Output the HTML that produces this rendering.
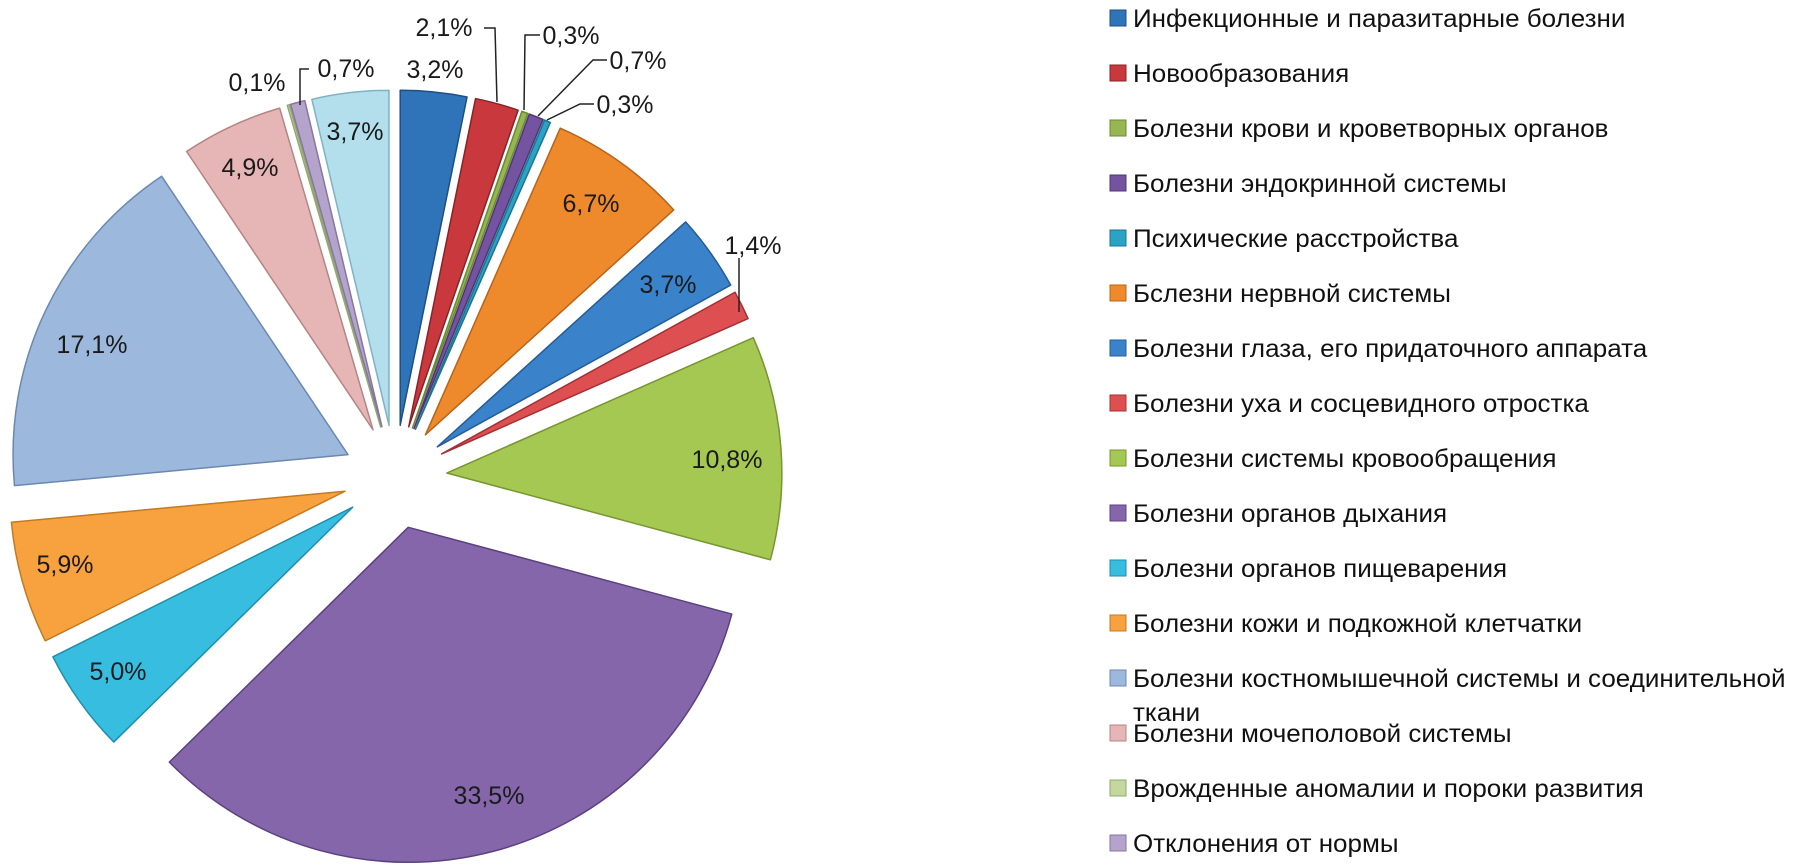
<!DOCTYPE html>
<html><head><meta charset="utf-8">
<style>
html,body{margin:0;padding:0;background:#fff;}
svg{display:block;}
text{font-family:"Liberation Sans","DejaVu Sans",sans-serif;}
</style></head>
<body>
<svg id="chart" width="1793" height="864" viewBox="0 0 1793 864" xmlns="http://www.w3.org/2000/svg">
<g id="slices"></g>
<g id="leaders"></g>
<g id="labels"></g>
<g id="legend"></g>
</svg>
<script>
const categories = [
 "Инфекционные и паразитарные болезни",
 "Новообразования",
 "Болезни крови и кроветворных органов",
 "Болезни эндокринной системы",
 "Психические расстройства",
 "Бслезни нервной системы",
 "Болезни глаза, его придаточного аппарата",
 "Болезни уха и сосцевидного отростка",
 "Болезни системы кровообращения",
 "Болезни органов дыхания",
 "Болезни органов пищеварения",
 "Болезни кожи и подкожной клетчатки",
 "Болезни костномышечной системы и соединительной",
 "Болезни мочеполовой системы",
 "Врожденные аномалии и пороки развития",
 "Отклонения от нормы",
 "Прочие"
];
const values = [3.2, 2.1, 0.3, 0.7, 0.3, 6.7, 3.7, 1.4, 10.8, 33.5, 5.0, 5.9, 17.1, 4.9, 0.1, 0.7, 3.7];
const valueLabels = ["3,2%","2,1%","0,3%","0,7%","0,3%","6,7%","3,7%","1,4%","10,8%","33,5%","5,0%","5,9%","17,1%","4,9%","0,1%","0,7%","3,7%"];

const colors = ["#2f74b8","#c8383c","#95b650","#7453a0","#2aa3c4","#ee8a2c","#3a82c9","#de4f52","#a4c852","#8566aa","#36bde0","#f7a23e","#9cb8dd","#e5b6b5","#c4d79e","#b4a3cb","#b3deeb"];
const strokes = ["#1d4f82","#8a2327","#6c8a35","#4f3575","#1a7590","#b8641a","#245d97","#a33034","#77962f","#5b4180","#1f8eac","#c47a22","#6b88b0","#b58483","#93a86f","#8676a0","#7fb3c4"];
const CX=395, CY=477, R=335, EXPLODE=52;

const total = values.reduce((a,b)=>a+b,0);
function angleOf(v){ return v/total*2*Math.PI; }
function pt(cx,cy,r,a){ return [cx+r*Math.sin(a), cy-r*Math.cos(a)]; }

const NS="http://www.w3.org/2000/svg";
const gS=document.getElementById('slices');
let acc=0;
values.forEach((v,i)=>{
  const a0=angleOf(acc), a1=angleOf(acc+v); acc+=v;
  const mid=(a0+a1)/2;
  const tx=CX+EXPLODE*Math.sin(mid), ty=CY-EXPLODE*Math.cos(mid);
  const p0=pt(tx,ty,R,a0), p1=pt(tx,ty,R,a1);
  const large=(a1-a0)>Math.PI?1:0;
  const p=document.createElementNS(NS,'path');
  p.setAttribute('d',`M${tx},${ty} L${p0[0]},${p0[1]} A${R},${R} 0 ${large} 1 ${p1[0]},${p1[1]} Z`);
  p.setAttribute('fill',colors[i]);
  p.setAttribute('stroke',strokes[i]);
  p.setAttribute('stroke-width','1.5');
  p.setAttribute('stroke-linejoin','round');
  
  
  gS.appendChild(p);
});

const labelPos = [[435,69],[444,27],[571,35],[638,60],[625,104],[591,203],[668,284],[753,245],[727,459],[489,795],[118,671],[65,564],[92,344],[250,167],[257,82],[346,68],[355,131]];
const gL=document.getElementById('labels');
valueLabels.forEach((t,i)=>{
  const e=document.createElementNS(NS,'text');
  e.setAttribute('x',labelPos[i][0]);
  e.setAttribute('y',labelPos[i][1]+9);
  e.setAttribute('text-anchor','middle');
  e.setAttribute('font-size','25');
  e.setAttribute('fill','#1a1a1a');
  e.textContent=t;
  
  
  gL.appendChild(e);
});

const leaderPaths = ["M484,28 L495,28 L497,102","M540,35 L525,35 L524,110","M607,60 L593,60 L538,116","M594,104 L580,104 L547,120","M739,258 L739,312","M309,69 L300,69 L300,105"];
const gLd=document.getElementById('leaders');
leaderPaths.forEach((d,i)=>{
  const e=document.createElementNS(NS,'path');
  e.setAttribute('d',d);
  e.setAttribute('fill','none');
  e.setAttribute('stroke','#222');
  e.setAttribute('stroke-width','1.5');
  
  
  gLd.appendChild(e);
});

const gG=document.getElementById('legend');
for(let i=0;i<16;i++){
  const y=18+i*55;
  const r=document.createElementNS(NS,'rect');
  r.setAttribute('x',1110); r.setAttribute('y',y-8);
  r.setAttribute('width',16); r.setAttribute('height',16);
  r.setAttribute('fill',colors[i]); r.setAttribute('stroke',strokes[i]);
  
  
  gG.appendChild(r);
  const t=document.createElementNS(NS,'text');
  t.setAttribute('x',1133); t.setAttribute('y',y+9);
  t.setAttribute('font-size','25');
  t.setAttribute('fill','#111');
  t.setAttribute('transform',`translate(1133,0) scale(1.04,1) translate(-1133,0)`);
  t.textContent=categories[i];
  
  
  gG.appendChild(t);
  if(i===12){
    const t2=document.createElementNS(NS,'text');
    t2.setAttribute('x',1133); t2.setAttribute('y',y+43);
    t2.setAttribute('font-size','25'); t2.setAttribute('fill','#111');
    t2.setAttribute('transform',`translate(1133,0) scale(1.04,1) translate(-1133,0)`);
    t2.textContent="ткани";
    
    
    gG.appendChild(t2);
  }
}
</script>
</body></html>
